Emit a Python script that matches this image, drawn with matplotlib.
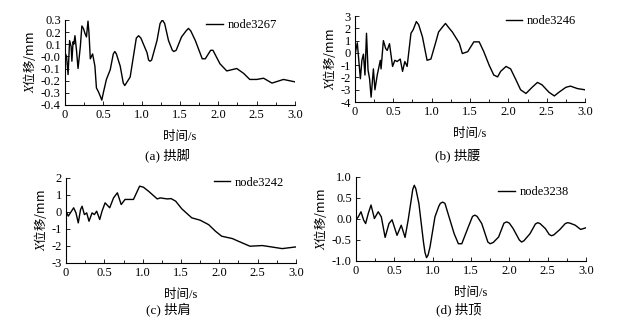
import numpy as np
import matplotlib
matplotlib.use("Agg")
import matplotlib.pyplot as plt

plt.rcParams['font.family'] = ['Liberation Serif', 'Noto Sans CJK SC']
plt.rcParams['mathtext.fontset'] = 'stix'
plt.rcParams['font.size'] = 9

# (a) node3267
t_a = [0, 0.02, 0.04, 0.06, 0.08, 0.09, 0.105, 0.115, 0.13, 0.15, 0.17, 0.2, 0.22, 0.24,
       0.26, 0.28, 0.30, 0.313, 0.33, 0.36, 0.39, 0.41, 0.435, 0.455, 0.48, 0.5, 0.54,
       0.59, 0.63, 0.65, 0.67, 0.72, 0.76, 0.78, 0.80, 0.85, 0.93, 0.96, 0.99, 1.07, 1.09,
       1.11, 1.13, 1.2, 1.24, 1.27, 1.30, 1.35, 1.40, 1.42, 1.45, 1.52, 1.58, 1.61, 1.64,
       1.7, 1.79, 1.83, 1.9, 1.93, 2.02, 2.11, 2.24, 2.33, 2.41, 2.5, 2.59, 2.7, 2.85, 3.0]
x_a = [0.03, 0.0, -0.15, 0.13, 0.08, -0.04, 0.12, 0.10, 0.17, 0.05, -0.10, 0.08, 0.25, 0.23,
       0.19, 0.16, 0.29, 0.19, -0.02, 0.02, -0.08, -0.26, -0.29, -0.32, -0.36, -0.30, -0.19,
       -0.11, 0.02, 0.04, 0.02, -0.08, -0.22, -0.24, -0.22, -0.17, 0.15, 0.17, 0.15, 0.03, -0.03,
       -0.04, -0.03, 0.13, 0.27, 0.30, 0.27, 0.13, 0.05, 0.04, 0.05, 0.16, 0.21, 0.23, 0.21,
       0.13, -0.02, -0.02, 0.05, 0.05, -0.06, -0.12, -0.10, -0.14, -0.19, -0.19, -0.18, -0.22,
       -0.19, -0.21]

# (b) node3246
t_b = [0, 0.015, 0.03, 0.07, 0.09, 0.11, 0.13, 0.15, 0.17, 0.19, 0.21, 0.24, 0.26, 0.29,
       0.33, 0.34, 0.37, 0.40, 0.42, 0.45, 0.49, 0.52, 0.55, 0.59, 0.62, 0.65, 0.68, 0.73,
       0.76, 0.80, 0.83, 0.88, 0.94, 0.99, 1.05, 1.09, 1.14, 1.18, 1.23, 1.27, 1.36, 1.40,
       1.47, 1.55, 1.62, 1.68, 1.75, 1.81, 1.86, 1.90, 1.97, 2.03, 2.10, 2.16, 2.23, 2.31,
       2.38, 2.44, 2.53, 2.60, 2.66, 2.75, 2.81, 2.90, 3.0]
x_b = [-0.2, 0.36, 0.82, -2.1, -0.6, -0.1, -1.8, 1.6, -1.4, -2.1, -3.6, -1.3, -3.0, -1.8,
       -0.6, -1.3, 1.0, 0.36, 0.2, 0.75, -1.1, -0.6, -0.7, -0.5, -1.5, -0.7, -1.1, 1.6,
       1.9, 2.55, 2.3, 1.3, -0.6, -0.5, 0.8, 1.7, 2.1, 2.4, 2.0, 1.7, 0.8, -0.05,
       0.1, 0.9, 0.9, 0.1, -1.0, -1.8, -1.95, -1.5, -1.1, -1.3, -2.2, -3.0, -3.3, -2.8,
       -2.4, -2.6, -3.2, -3.5, -3.2, -2.8, -2.7, -2.9, -3.0]

# (c) node3242
t_c = [0, 0.03, 0.10, 0.13, 0.16, 0.19, 0.21, 0.24, 0.27, 0.30, 0.34, 0.37, 0.40, 0.44,
       0.47, 0.51, 0.57, 0.62, 0.67, 0.72, 0.77, 0.82, 0.88, 0.96, 1.01, 1.08, 1.19, 1.23,
       1.32, 1.37, 1.43, 1.51, 1.64, 1.75, 1.86, 1.95, 2.03, 2.17, 2.25, 2.40, 2.56, 2.62,
       2.82, 3.0]
x_c = [0.04, -0.25, 0.24, -0.06, -0.65, 0.14, 0.33, -0.16, -0.06, -0.55, -0.06, -0.16, 0.04,
       -0.45, 0.04, 0.53, 0.24, 0.82, 1.12, 0.43, 0.73, 0.73, 0.73, 1.51, 1.45, 1.2, 0.76,
       0.82, 0.76, 0.78, 0.63, 0.18, -0.35, -0.49, -0.75, -1.14, -1.43, -1.57, -1.73, -2.02,
       -1.98, -2.02, -2.16, -2.06]

# (d) node3238
t_d = [0, 0.03, 0.065, 0.10, 0.126, 0.16, 0.196, 0.24, 0.29, 0.33, 0.38, 0.43, 0.47, 0.535,
       0.59, 0.64, 0.68, 0.72, 0.74, 0.76, 0.78, 0.82, 0.88, 0.90, 0.92, 0.94, 0.965, 1.03,
       1.08, 1.10, 1.13, 1.16, 1.20, 1.28, 1.335, 1.38, 1.465, 1.52, 1.55, 1.58, 1.64, 1.72,
       1.75, 1.79, 1.86, 1.93, 1.965, 2.0, 2.05, 2.13, 2.16, 2.19, 2.27, 2.34, 2.37, 2.40,
       2.47, 2.52, 2.55, 2.58, 2.66, 2.73, 2.76, 2.79, 2.86, 2.93, 3.0]
x_d = [-0.02, 0.05, 0.17, -0.03, -0.11, 0.13, 0.33, 0.01, 0.17, 0.05, -0.44, -0.11, -0.02,
       -0.39, -0.15, -0.44, -0.03, 0.45, 0.70, 0.80, 0.72, 0.37, -0.55, -0.80, -0.92, -0.86,
       -0.67, 0.05, 0.30, 0.37, 0.40, 0.37, 0.13, -0.35, -0.59, -0.59, -0.19, 0.06, 0.09, 0.06,
       -0.11, -0.55, -0.59, -0.56, -0.43, -0.10, -0.07, -0.10, -0.23, -0.50, -0.55, -0.52,
       -0.35, -0.12, -0.09, -0.11, -0.23, -0.37, -0.40, -0.38, -0.25, -0.11, -0.09, -0.10,
       -0.15, -0.25, -0.21]

x_ticks = [0, 0.5, 1.0, 1.5, 2.0, 2.5, 3.0]
x_tick_labels = ['0', '0.5', '1.0', '1.5', '2.0', '2.5', '3.0']

panels = [
    (t_a, x_a, 'node3267', (-0.4, 0.3), 0.1, '{:.1f}', '(a) 拱脚', (0.922, 0.94)),
    (t_b, x_b, 'node3246', (-4, 3), 1, '{:.0f}', '(b) 拱腰', (0.961, 0.942)),
    (t_c, x_c, 'node3242', (-3, 2), 1, '{:.0f}', '(c) 拱肩', (0.948, 0.941)),
    (t_d, x_d, 'node3238', (-1.0, 1.0), 0.5, '{:.1f}', '(d) 拱顶', (0.926, 0.82)),
]
rects = [
    [0.104, 0.673, 0.368, 0.265],
    [0.568, 0.682, 0.368, 0.268],
    [0.1056, 0.181, 0.368, 0.265],
    [0.5696, 0.187, 0.368, 0.262],
]
caption_y = [0.517, 0.517, 0.036, 0.036]

fig = plt.figure(figsize=(6.25, 3.21), dpi=100)

for (t, x, name, ylim, ystep, fmt, cap, leg_pos), rect, cy in zip(panels, rects, caption_y):
    ax = fig.add_axes(rect)
    ax.plot(t, x, color='black', lw=1.0, label=name, solid_joinstyle='round')
    ax.set_xlim(0, 3.0)
    ax.set_ylim(*ylim)
    ax.spines['top'].set_visible(False)
    ax.spines['right'].set_visible(False)
    ax.set_xticks(x_ticks)
    ax.set_xticklabels(x_tick_labels)
    ax.set_xticks(np.arange(0.25, 3.0, 0.5), minor=True)
    yt = np.arange(ylim[0], ylim[1] + ystep / 2, ystep)
    ax.set_yticks(yt)
    ax.set_yticklabels([fmt.format(v + 0.0) for v in yt])
    ax.tick_params(direction='in', length=3, width=0.6, labelsize=9, pad=3)
    ax.tick_params(which='minor', direction='in', length=2, width=0.6)
    ax.set_xlabel('时间/s', fontsize=9, labelpad=7)
    ax.set_ylabel('$X$位移/mm', fontsize=9, family=['Noto Sans CJK SC'], labelpad=2)
    ax.legend(loc='center right', bbox_to_anchor=leg_pos, frameon=False, fontsize=9,
              handlelength=1.3, handletextpad=0.4, borderaxespad=0, borderpad=0)
    fig.text(rect[0] + rect[2] / 2 - 0.02, cy, cap, fontsize=9.5, ha='center', va='center')

fig.savefig('out.png', dpi=100)
